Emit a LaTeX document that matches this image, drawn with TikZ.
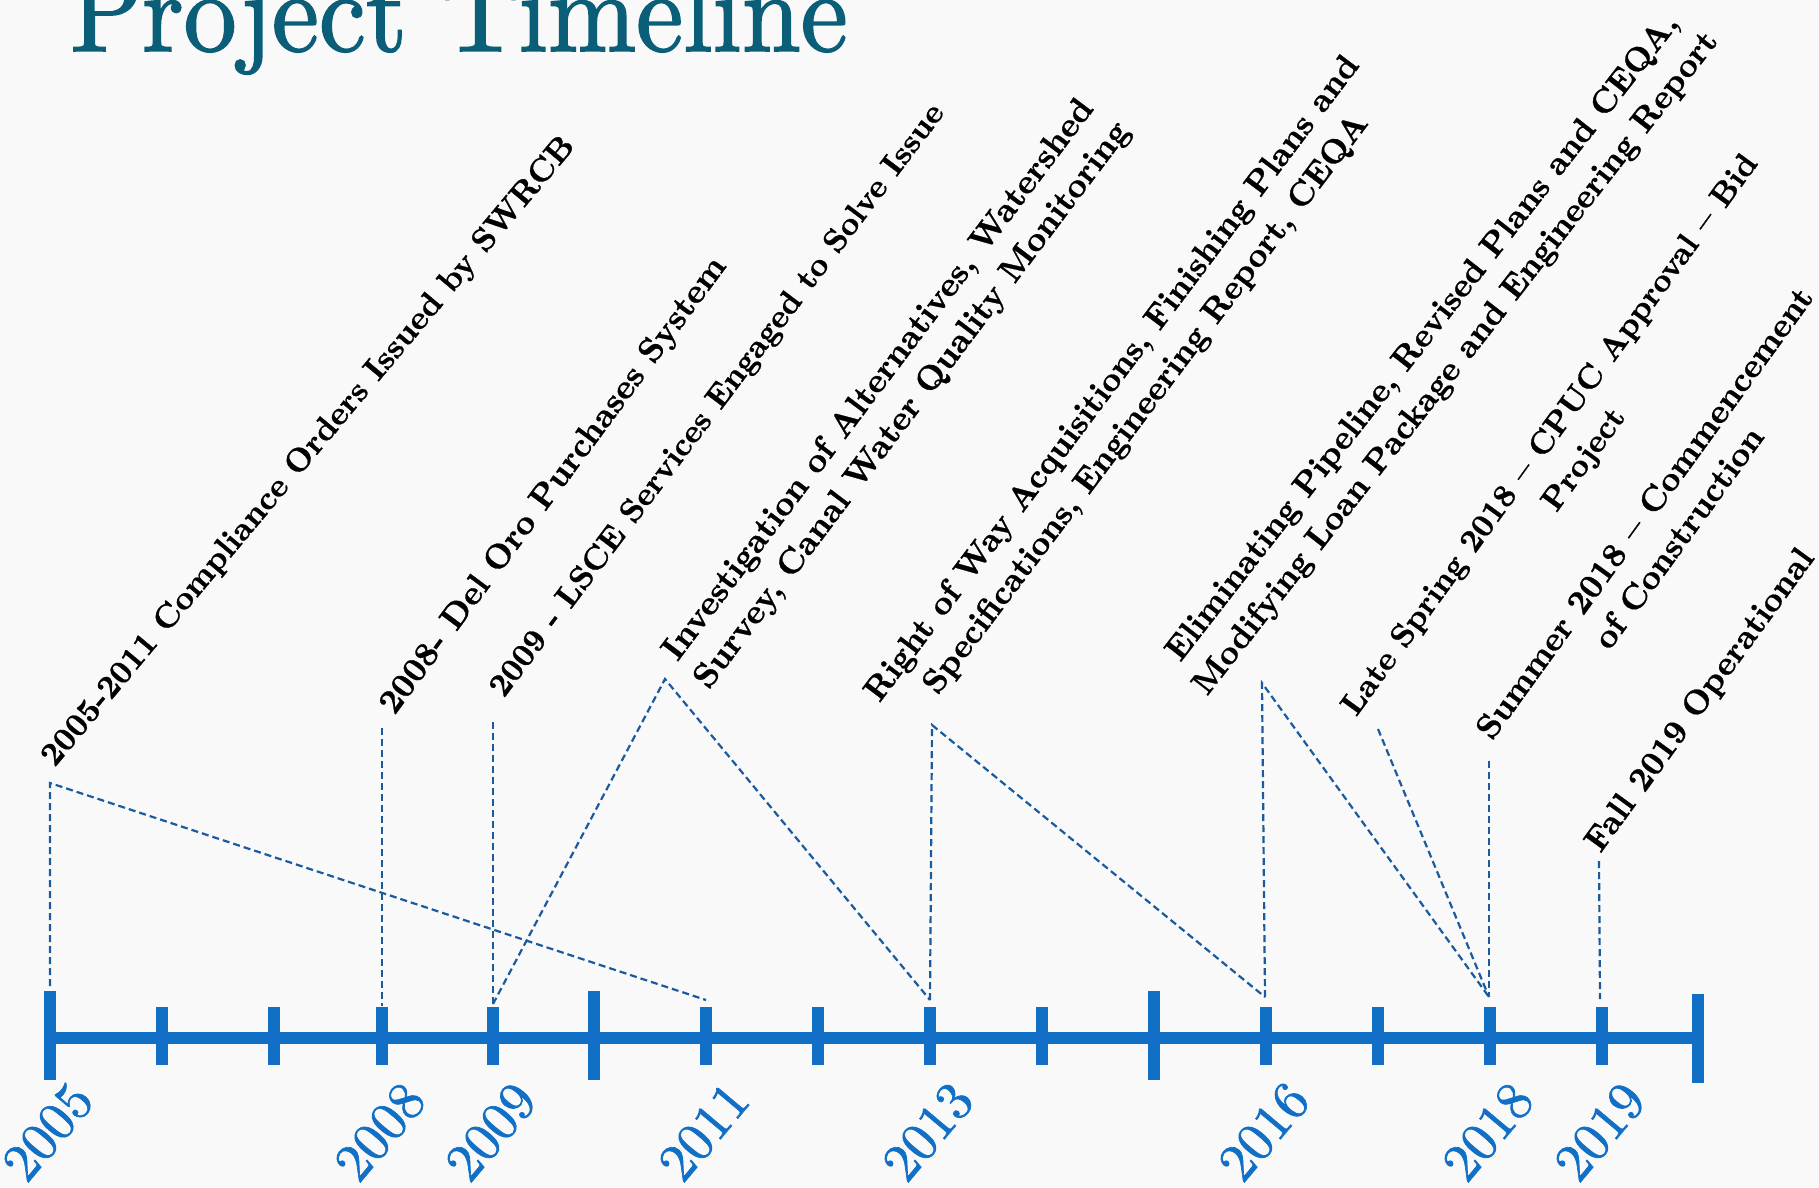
\documentclass[tikz,border=0pt]{standalone}
\usepackage{graphicx}
\definecolor{axisblue}{RGB}{17,112,198}
\definecolor{dashblue}{RGB}{28,90,158}
\definecolor{titleteal}{RGB}{11,94,120}
\definecolor{bgpaper}{RGB}{249,249,249}
\font\titlefnt="[lmroman10-regular]:embolden=1.5" at 114pt
\font\yrfnt="[lmroman10-regular]:embolden=1.2" at 54pt
\newcommand\lblfnt[1]{\font\lblcur="[lmroman10-bold]:+tlig;embolden=0.8" at #1pt\lblcur}
\begin{document}
\begin{tikzpicture}[x=1pt,y=-1pt,
  axisline/.style={draw=axisblue,line width=12.3pt},
  tickline/.style={draw=axisblue,line width=11.7pt},
  conn/.style={draw=dashblue,line width=2.2pt,dash pattern=on 7pt off 4pt},
  lbl/.style 2 args={rotate=#2,align=center,inner sep=0pt,text=black,
    font=\fontsize{#1}{42}\selectfont\lblfnt{#1}},
  yr/.style={rotate=50,inner sep=0pt,text=axisblue,font=\yrfnt}]
\useasboundingbox (0,0) rectangle (1819,1187);
\clip (0,0) rectangle (1819,1187);
\fill[bgpaper] (0,0) rectangle (1819,1187);

% title
\node[anchor=base west,inner sep=0pt,text=titleteal,font=\titlefnt]
  (title) at (70,51) {\scalebox{0.928}[1]{Project Timeline}};

% tick coordinates on the axis
\foreach \n/\x in {05/50,06/162,07/274,08/382,09/493,10/594,11/706,12/818,
  13/930,14/1042,15/1154,16/1266,17/1378,18/1490,19/1602,20/1698}
  \coordinate (k\n) at (\x,1038);

% axis
\draw[axisline] (44,1038) -- (1704,1038);
\foreach \n in {05,10,15}
  \draw[tickline] (k\n) ++(0,-47) -- ++(0,89);
\foreach \n in {06,07,08,09,11,12,13,14,16,17,18,19}
  \draw[tickline] (k\n) ++(0,-31) -- ++(0,58);
\draw[tickline] (k20) ++(0,-44) -- ++(0,89);

% year labels
\foreach \n/\x in {05/50,08/382,09/493,11/706,13/930,16/1266,18/1490,19/1602}
  \node[yr] (y\n) at (\x-2,1132) {20\n};

% connector end points near the axis
\coordinate (e05) at (50,986);
\coordinate (e08) at (382,1006);
\coordinate (e09) at (493,1004);
\coordinate (e11) at (706,1000);
\coordinate (e13) at (930,1000);
\coordinate (e16) at (1265,997);
\coordinate (e18) at (1489,997);
\coordinate (e19) at (1600,999);

% connector tops
\coordinate (a1) at (50,783);
\coordinate (a2) at (382,728);
\coordinate (a3) at (493,722);
\coordinate (a4) at (665,679);
\coordinate (a5) at (932,725);
\coordinate (a6) at (1262,683);
\coordinate (a7) at (1378,729);
\coordinate (a8) at (1489,761);
\coordinate (a9) at (1599,861);

% labels
\node[lbl={32.6}{50}] (l1) at (309,452) {2005-2011 Compliance Orders Issued by SWRCB};
\node[lbl={33.9}{53.5}] (l2) at (554,486) {2008- Del Oro Purchases System};
\node[lbl={32.2}{53}] (l3) at (718,401) {2009 - LSCE Services Engaged to Solve Issue};
\node[lbl={34}{53}] (l4) at (896,393) {Investigation of Alternatives, Watershed\\Survey, Canal Water Quality Monitoring};
\node[lbl={33.4}{53}] (l5) at (1130,392) {Right of Way Acquisitions, Finishing Plans and\\Specifications, Engineering Report, CEQA};
\node[lbl={33.3}{52}] (l6) at (1440,351) {Eliminating Pipeline, Revised Plans and CEQA,\\Modifying Loan Package and Engineering Report};
\node[lbl={32.1}{54}] (l7) at (1568,448) {Late Spring 2018 – CPUC Approval – Bid\\Project};
\node[lbl={33.7}{54}] (l8) at (1661,525) {Summer 2018 – Commencement\\of Construction};
\node[lbl={33.7}{54}] (l9) at (1701,701) {Fall 2019 Operational};

% dashed connectors
\draw[conn] (e05) -- (a1) -- (e11);
\draw[conn] (a2) -- (e08);
\draw[conn] (a3) -- (e09);
\draw[conn] (e09) -- (a4) -- (e13);
\draw[conn] (e13) -- (a5) -- (e16);
\draw[conn] (e16) -- (a6) -- (e18);
\draw[conn] (a7) -- (e18);
\draw[conn] (a8) -- (e18);
\draw[conn] (a9) -- (e19);
\end{tikzpicture}
\end{document}
